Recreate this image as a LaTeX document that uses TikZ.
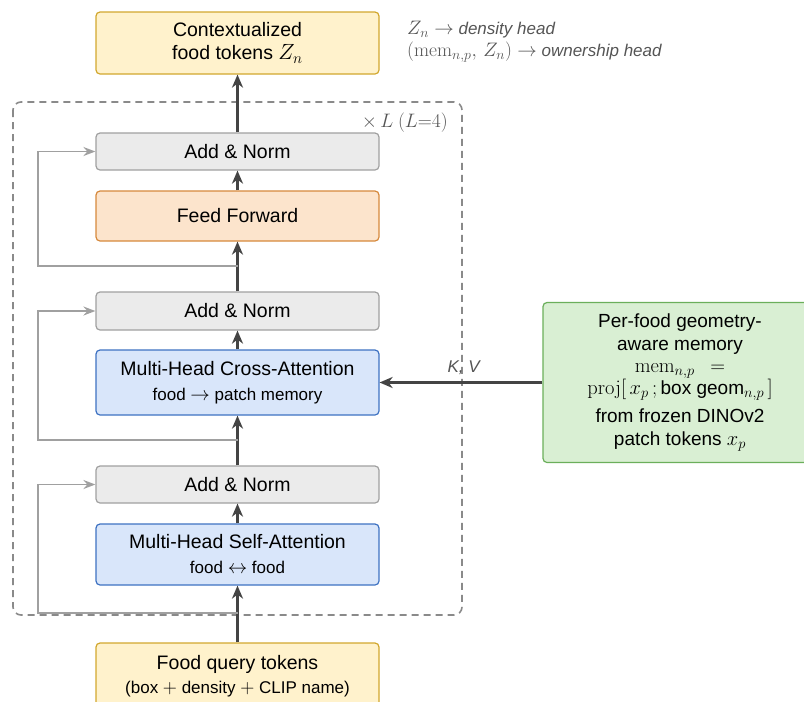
\RequirePackage{fix-cm}
\documentclass[tikz,border=0pt]{standalone}
\usepackage[no-math]{fontspec}
\setmainfont{Liberation Sans}
\usetikzlibrary{arrows.meta}
\DeclareMathSizes{19.5}{22}{15.5}{12}
\DeclareMathSizes{19}{20.5}{14.5}{11}
\DeclareMathSizes{17}{19.5}{14}{11}
\definecolor{yfill}{HTML}{FFF2CC}
\definecolor{ydraw}{HTML}{D2A72E}
\definecolor{gfill}{HTML}{EBEBEB}
\definecolor{gdraw}{HTML}{A0A0A0}
\definecolor{pfill}{HTML}{FCE4CC}
\definecolor{pdraw}{HTML}{D6893C}
\definecolor{bfill}{HTML}{D9E6FA}
\definecolor{bdraw}{HTML}{3E72C2}
\definecolor{mfill}{HTML}{D9EFD3}
\definecolor{mdraw}{HTML}{6BAF5B}
\definecolor{mainc}{HTML}{444444}
\definecolor{skipc}{HTML}{A0A0A0}
\definecolor{dashc}{HTML}{8A8A8A}
\definecolor{notec}{HTML}{555555}
\tikzset{
  blk/.style={draw, rounded corners=4pt, line width=1.2pt, minimum width=283pt,
    align=center, inner sep=0pt, font=\fontsize{19.5}{23}\selectfont},
  yblk/.style={blk, fill=yfill, draw=ydraw},
  gblk/.style={blk, fill=gfill, draw=gdraw},
  pblk/.style={blk, fill=pfill, draw=pdraw},
  bblk/.style={blk, fill=bfill, draw=bdraw},
  mblk/.style={blk, fill=mfill, draw=mdraw, minimum width=274pt},
  mainarr/.style={draw=mainc, line width=2.2pt, -{Stealth[length=13pt,width=11pt,inset=4pt]}},
  skiparr/.style={draw=skipc, line width=1.8pt, -{Stealth[length=12pt,width=9pt,inset=4pt]}},
  note/.style={text=notec, font=\fontsize{17}{22}\selectfont, inner sep=0pt}
}
\newcommand{\smallline}{\fontsize{17}{20}\selectfont}
\begin{document}
\begin{tikzpicture}[x=1pt,y=-1pt]
\useasboundingbox (0,0) rectangle (804,702);
% dashed repeat container
\draw[dashc, line width=1.6pt, dash pattern=on 7pt off 5pt, rounded corners=8pt] (13,102) rectangle (462,615);
\node[note, anchor=east] (rep) at (448,123) {$\times\, L\ (L{=}4)$};

% blocks
\node[yblk, minimum height=62pt] (top) at (237.5,43) {Contextualized\\food tokens $Z_n$};
\node[gblk, minimum height=37pt] (an1) at (237.5,151.5) {Add \& Norm};
\node[pblk, minimum height=50pt] (ff) at (237.5,216) {Feed Forward};
\node[gblk, minimum height=38pt] (an2) at (237.5,311) {Add \& Norm};
\node[bblk, minimum height=65pt] (ca) at (237.5,382.5) {Multi-Head Cross-Attention\\[2pt]{\smallline food $\rightarrow$ patch memory}};
\node[gblk, minimum height=37pt] (an3) at (237.5,484.5) {Add \& Norm};
\node[bblk, minimum height=61pt] (sa) at (237.5,554.5) {Multi-Head Self-Attention\\[2pt]{\smallline food $\leftrightarrow$ food}};
\node[yblk, minimum height=66pt] (fq) at (237.5,676) {Food query tokens\\[1pt]{\smallline (box $+$ density $+$ CLIP name)}};
\node[mblk, minimum height=160pt, font=\fontsize{19}{23.5}\selectfont] (mem) at (680,382.5)
  {Per-food geometry-\\aware memory\\[-2pt]
   $\mathrm{mem}_{n,p}\hspace{10pt}=$\\[-1pt]
   $\mathrm{proj}[\,x_p\,;\,$box geom$_{n,p}\,]$\\[4pt]
   from frozen DINOv2\\patch tokens $x_p$};

% annotation
\node[note, anchor=west, align=left] (ann) at (407,42)
  {$Z_n \rightarrow$ \textit{density head}\\
   $(\mathrm{mem}_{n,p},\, Z_n) \rightarrow$ \textit{ownership head}};

% branch points for residual connections
\coordinate (b1) at (237.5,266);
\coordinate (b2) at (237.5,440);
\coordinate (b3) at (237.5,613);

% main flow
\draw[mainarr] (fq.north) -- (sa.south);
\draw[mainarr] (sa.north) -- (an3.south);
\draw[mainarr] (an3.north) -- (ca.south);
\draw[mainarr] (ca.north) -- (an2.south);
\draw[mainarr] (an2.north) -- (ff.south);
\draw[mainarr] (ff.north) -- (an1.south);
\draw[mainarr] (an1.north) -- (top.south);

% residual connections
\draw[skiparr] (b1) -- ++(-199.5,0) |- (an1.west);
\draw[skiparr] (b2) -- ++(-199.5,0) |- (an2.west);
\draw[skiparr] (b3) -- ++(-199.5,0) |- (an3.west);

% memory to cross-attention
\draw[mainarr] (mem.west) -- node[note, above=7pt, pos=0.48] (kv) {\textit{K, V}} (ca.east);
\end{tikzpicture}
\end{document}
